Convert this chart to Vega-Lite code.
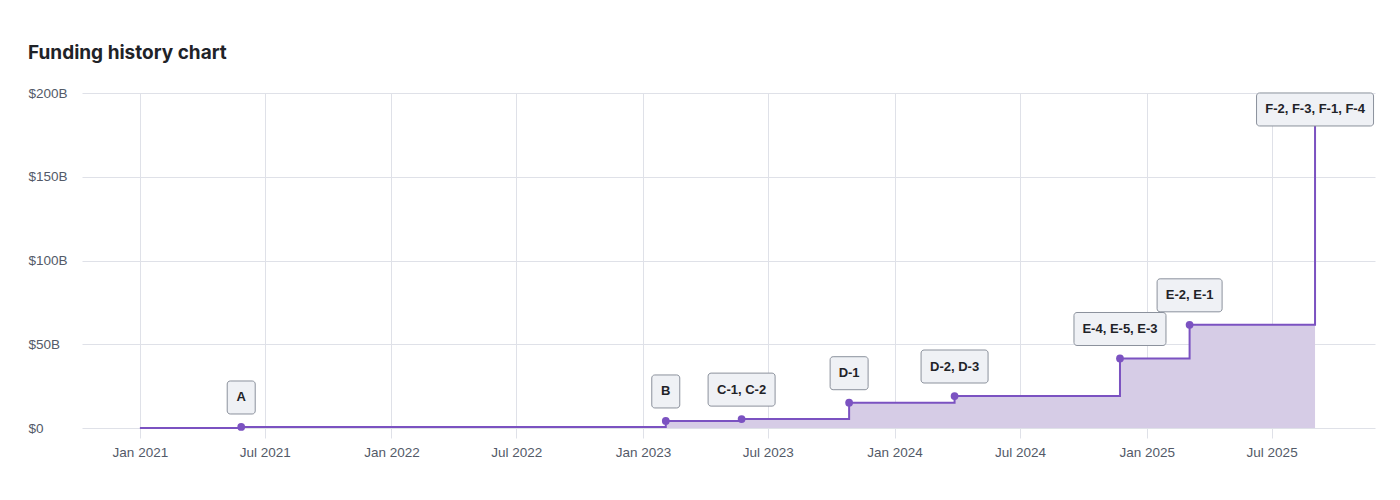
{
  "$schema": "https://vega.github.io/schema/vega-lite/v6.json",
  "autosize": {"type": "none"},
  "width": 1293,
  "height": 335,
  "padding": {"left": 82, "top": 93, "right": 25, "bottom": 72},
  "background": "#ffffff",
  "title": {
    "text": "Funding history chart",
    "anchor": "start",
    "frame": "group",
    "dx": -54,
    "offset": 8,
    "baseline": "alphabetic",
    "font": "Inter",
    "fontSize": 19,
    "fontWeight": 700,
    "color": "#1f2328"
  },
  "config": {
    "view": {"stroke": null},
    "axis": {
      "labelFont": "Liberation Sans",
      "labelFontSize": 13.5,
      "labelColor": "#535a68",
      "gridColor": "#dfe1e8",
      "tickColor": "#dfe1e8",
      "domain": false,
      "title": null
    }
  },
  "data": {
    "values": [
      {"date": "2021-01-01", "valuation": 0, "label": null},
      {"date": "2021-05-28", "valuation": 0.6, "label": "A"},
      {"date": "2023-02-03", "valuation": 4.2, "label": "B"},
      {"date": "2023-05-24", "valuation": 5.3, "label": "C-1, C-2"},
      {"date": "2023-10-27", "valuation": 15.1, "label": "D-1"},
      {"date": "2024-03-28", "valuation": 19.1, "label": "D-2, D-3"},
      {"date": "2024-11-23", "valuation": 41.5, "label": "E-4, E-5, E-3"},
      {"date": "2025-03-04", "valuation": 61.6, "label": "E-2, E-1"},
      {"date": "2025-09-02", "valuation": 183, "label": "F-2, F-3, F-1, F-4"}
    ]
  },
  "encoding": {
    "x": {
      "field": "date",
      "type": "temporal",
      "scale": {"domain": ["2020-10-09", "2025-11-28"]},
      "axis": {
        "format": "%b %Y",
        "tickCount": {"interval": "month", "step": 6},
        "grid": true,
        "ticks": true,
        "tickSize": 10,
        "labelPadding": 18,
        "labelBaseline": "alphabetic",
        "labelFlush": false
      }
    },
    "y": {
      "field": "valuation",
      "type": "quantitative",
      "scale": {"domain": [0, 200], "nice": false},
      "axis": {
        "values": [0, 50, 100, 150, 200],
        "labelExpr": "datum.value == 0 ? '$0' : '$' + datum.value + 'B'",
        "grid": true,
        "ticks": false,
        "tickSize": 0,
        "labelAlign": "left",
        "labelBaseline": "middle",
        "labelPadding": 54
      }
    }
  },
  "layer": [
    {
      "mark": {"type": "area", "interpolate": "step-after", "color": "#d6cce6", "opacity": 1}
    },
    {
      "mark": {"type": "line", "interpolate": "step-after", "color": "#7b52c1", "strokeWidth": 2}
    },
    {
      "transform": [{"filter": "datum.label != null"}],
      "mark": {"type": "circle", "color": "#7b52c1", "opacity": 1, "size": 60}
    },
    {
      "transform": [{"filter": "datum.label != null && indexof(datum.label, 'F-') < 0"}],
      "mark": {"type": "point", "filled": true, "fill": "#eff1f5", "stroke": "#8b919c", "strokeWidth": 1, "opacity": 1, "size": 40000, "yOffset": -29.5},
      "encoding": {
        "shape": {
          "field": "label",
          "type": "nominal",
          "legend": null,
          "scale": {
            "domain": ["A", "B", "C-1, C-2", "D-1", "D-2, D-3", "E-4, E-5, E-3", "E-2, E-1", "F-2, F-3, F-1, F-4"],
            "range": [
              "M-0.11,-0.165L0.11,-0.165A0.03,0.03 0 0 1 0.14,-0.135L0.14,0.135A0.03,0.03 0 0 1 0.11,0.165L-0.11,0.165A0.03,0.03 0 0 1 -0.14,0.135L-0.14,-0.135A0.03,0.03 0 0 1 -0.11,-0.165Z",
              "M-0.11,-0.165L0.11,-0.165A0.03,0.03 0 0 1 0.14,-0.135L0.14,0.135A0.03,0.03 0 0 1 0.11,0.165L-0.11,0.165A0.03,0.03 0 0 1 -0.14,0.135L-0.14,-0.135A0.03,0.03 0 0 1 -0.11,-0.165Z",
              "M-0.305,-0.165L0.305,-0.165A0.03,0.03 0 0 1 0.335,-0.135L0.335,0.135A0.03,0.03 0 0 1 0.305,0.165L-0.305,0.165A0.03,0.03 0 0 1 -0.335,0.135L-0.335,-0.135A0.03,0.03 0 0 1 -0.305,-0.165Z",
              "M-0.16,-0.165L0.16,-0.165A0.03,0.03 0 0 1 0.19,-0.135L0.19,0.135A0.03,0.03 0 0 1 0.16,0.165L-0.16,0.165A0.03,0.03 0 0 1 -0.19,0.135L-0.19,-0.135A0.03,0.03 0 0 1 -0.16,-0.165Z",
              "M-0.305,-0.165L0.305,-0.165A0.03,0.03 0 0 1 0.335,-0.135L0.335,0.135A0.03,0.03 0 0 1 0.305,0.165L-0.305,0.165A0.03,0.03 0 0 1 -0.335,0.135L-0.335,-0.135A0.03,0.03 0 0 1 -0.305,-0.165Z",
              "M-0.43,-0.165L0.43,-0.165A0.03,0.03 0 0 1 0.46,-0.135L0.46,0.135A0.03,0.03 0 0 1 0.43,0.165L-0.43,0.165A0.03,0.03 0 0 1 -0.46,0.135L-0.46,-0.135A0.03,0.03 0 0 1 -0.43,-0.165Z",
              "M-0.295,-0.165L0.295,-0.165A0.03,0.03 0 0 1 0.325,-0.135L0.325,0.135A0.03,0.03 0 0 1 0.295,0.165L-0.295,0.165A0.03,0.03 0 0 1 -0.325,0.135L-0.325,-0.135A0.03,0.03 0 0 1 -0.295,-0.165Z",
              "M-0.555,-0.165L0.555,-0.165A0.03,0.03 0 0 1 0.585,-0.135L0.585,0.135A0.03,0.03 0 0 1 0.555,0.165L-0.555,0.165A0.03,0.03 0 0 1 -0.585,0.135L-0.585,-0.135A0.03,0.03 0 0 1 -0.555,-0.165Z"
            ]
          }
        }
      }
    },
    {
      "transform": [{"filter": "datum.label != null && indexof(datum.label, 'F-') >= 0"}],
      "mark": {"type": "point", "filled": true, "fill": "#eff1f5", "stroke": "#8b919c", "strokeWidth": 1, "opacity": 1, "size": 40000, "yOffset": -12},
      "encoding": {
        "shape": {
          "field": "label",
          "type": "nominal",
          "legend": null,
          "scale": {
            "domain": ["F-2, F-3, F-1, F-4"],
            "range": [
              "M-0.555,-0.165L0.555,-0.165A0.03,0.03 0 0 1 0.585,-0.135L0.585,0.135A0.03,0.03 0 0 1 0.555,0.165L-0.555,0.165A0.03,0.03 0 0 1 -0.585,0.135L-0.585,-0.135A0.03,0.03 0 0 1 -0.555,-0.165Z"
            ]
          }
        }
      }
    },
    {
      "transform": [{"filter": "datum.label != null && indexof(datum.label, 'F-') < 0"}],
      "mark": {"type": "text", "font": "Liberation Sans", "fontSize": 13, "fontWeight": "bold", "color": "#1f2328", "baseline": "middle", "align": "center", "dy": -29.5},
      "encoding": {"text": {"field": "label"}}
    },
    {
      "transform": [{"filter": "datum.label != null && indexof(datum.label, 'F-') >= 0"}],
      "mark": {"type": "text", "font": "Liberation Sans", "fontSize": 13, "fontWeight": "bold", "color": "#1f2328", "baseline": "middle", "align": "center", "dy": -12},
      "encoding": {"text": {"field": "label"}}
    }
  ],
  "resolve": {"scale": {"shape": "independent"}}
}
